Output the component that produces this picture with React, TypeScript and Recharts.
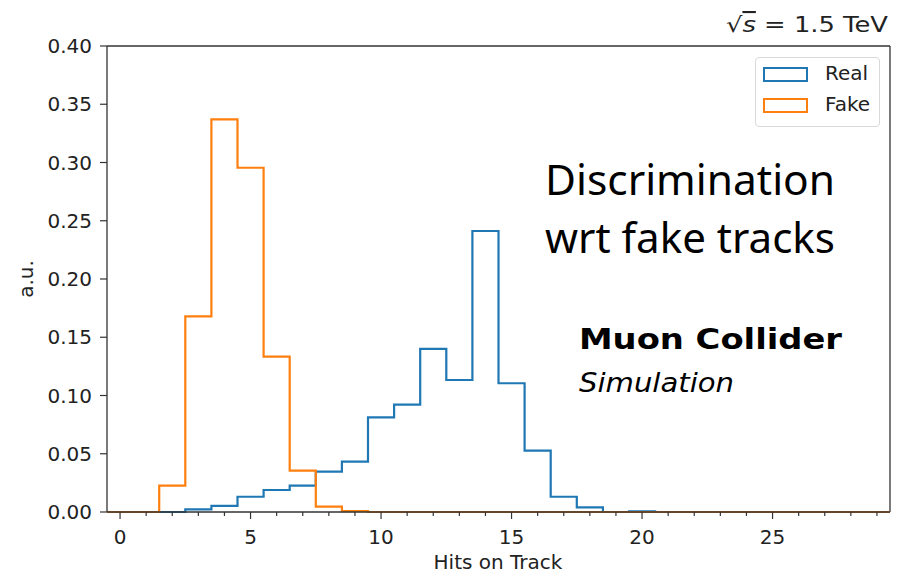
import React from 'react';
import { ComposedChart, Line, XAxis, YAxis, ReferenceLine, Legend } from 'recharts';

// Histogram bins (centres), values per bin
const HITS = [0, 1, 2, 3, 4, 5, 6, 7, 8, 9, 10, 11, 12, 13, 14, 15, 16, 17, 18, 19, 20, 21, 22, 23, 24, 25, 26, 27, 28, 29];
const REAL = [0, 0, 0, 0.0023, 0.0052, 0.0131, 0.0189, 0.0226, 0.0346, 0.0432, 0.0813, 0.0921, 0.14, 0.1133, 0.2412, 0.1105, 0.0526, 0.0131, 0.004, 0, 0.0005, 0, 0, 0, 0, 0, 0, 0, 0, 0];
const FAKE = [0, 0, 0.0226, 0.168, 0.337, 0.2955, 0.1333, 0.0355, 0.0046, 0.0008, 0, 0, 0, 0, 0, 0, 0, 0, 0, 0, 0, 0, 0, 0, 0, 0, 0, 0, 0, 0];
const BIN_WIDTH = 1;
const X_TICKS = HITS;
const Y_TICKS = [0, 0.05, 0.1, 0.15, 0.2, 0.25, 0.3, 0.35, 0.4];
const SERIES = [
  { key: 'real', name: 'Real', color: '#1f77b4' },
  { key: 'fake', name: 'Fake', color: '#ff7f0e' },
];

const stepData = HITS.map((h, i) => ({ x: h - BIN_WIDTH / 2, real: REAL[i], fake: FAKE[i] }));
stepData.push({
  x: HITS[HITS.length - 1] + BIN_WIDTH / 2,
  real: REAL[REAL.length - 1],
  fake: FAKE[FAKE.length - 1],
});

const FONT = 'DejaVu Sans';
const AXIS = '#333333';
const TEXT = '#222222';

const XTick = (props: any) => {
  const { x, y, payload } = props;
  const major = payload.value % 5 === 0;
  return (
    <g>
      <line x1={x} x2={x} y1={y} y2={y + (major ? 7 : 4)} stroke={AXIS} strokeWidth={1.2} />
      {major && (
        <text x={x} y={y + 32} textAnchor="middle" fontFamily={FONT} fontSize={20} fill={TEXT}>
          {payload.value}
        </text>
      )}
    </g>
  );
};

const LegendBox = () => (
  <div
    style={{
      position: 'relative',
      width: 125,
      height: 70,
      boxSizing: 'border-box',
      border: '1.5px solid #d9d9d9',
      borderRadius: 4,
      background: 'rgba(255,255,255,0.8)',
      fontFamily: FONT,
      fontSize: 20,
      color: TEXT,
    }}
  >
    {SERIES.map((s, i) => (
      <div key={s.key}>
        <div
          style={{
            position: 'absolute',
            left: 7,
            top: 9 + i * 31,
            width: 45,
            height: 15,
            boxSizing: 'border-box',
            border: `2px solid ${s.color}`,
          }}
        />
        <div style={{ position: 'absolute', left: 69, top: 3 + i * 31, lineHeight: '24px' }}>{s.name}</div>
      </div>
    ))}
  </div>
);

export default function App() {
  return (
    <div style={{ position: 'absolute', left: 0, top: 0, width: 902, height: 576, background: '#fff' }}>
      <ComposedChart width={902} height={576} data={stepData} margin={{ top: 46, right: 12, bottom: 0, left: 0 }}>
        <XAxis
          dataKey="x"
          type="number"
          domain={[-0.5, 29.5]}
          allowDataOverflow
          ticks={X_TICKS}
          interval={0}
          height={64}
          tickLine={false}
          tickSize={0}
          tickMargin={0}
          tick={<XTick />}
          axisLine={{ stroke: AXIS, strokeWidth: 1.3 }}
        />
        <YAxis
          type="number"
          domain={[0, 0.4]}
          ticks={Y_TICKS}
          interval={0}
          width={107}
          tickSize={7}
          tickMargin={8}
          tickFormatter={(v: number) => v.toFixed(2)}
          tick={{ fontFamily: FONT, fontSize: 20, fill: TEXT }}
          tickLine={{ stroke: AXIS, strokeWidth: 1.2 }}
          axisLine={{ stroke: AXIS, strokeWidth: 1.3 }}
        />
        <ReferenceLine y={0.4} stroke={AXIS} strokeWidth={1.3} />
        <ReferenceLine x={29.5} stroke={AXIS} strokeWidth={1.3} />
        {SERIES.map((s) => (
          <Line
            key={s.key}
            dataKey={s.key}
            name={s.name}
            type="stepAfter"
            stroke={s.color}
            strokeWidth={2.2}
            dot={false}
            activeDot={false}
            isAnimationActive={false}
          />
        ))}
        <Legend
          layout="vertical"
          align="center"
          verticalAlign="middle"
          wrapperStyle={{ left: 755, top: 57, width: 125, height: 70 }}
          content={() => <LegendBox />}
        />
      </ComposedChart>
      <svg width={902} height={576} style={{ position: 'absolute', left: 0, top: 0, pointerEvents: 'none' }}>
        <text x={888} y={32} textAnchor="end" fontFamily={FONT} fontSize={21} fill={TEXT} textLength={162} lengthAdjust="spacingAndGlyphs">
          <tspan>√</tspan>
          <tspan fontStyle="italic" textDecoration="overline">s</tspan>
          <tspan> = 1.5 TeV</tspan>
        </text>
        <text x={33} y={279} transform="rotate(-90, 33, 279)" textAnchor="middle" fontFamily={FONT} fontSize={20} fill={TEXT}>
          a.u.
        </text>
        <text x={498} y={569} textAnchor="middle" fontFamily={FONT} fontSize={20} fill={TEXT}>
          Hits on Track
        </text>
        <text x={545} y={195} fontFamily="Noto Sans" fontSize={42} fill="#000" textLength={290} lengthAdjust="spacingAndGlyphs">
          Discrimination
        </text>
        <text x={545} y={253} fontFamily="Noto Sans" fontSize={42} fill="#000" textLength={290} lengthAdjust="spacingAndGlyphs">
          wrt fake tracks
        </text>
        <text x={579} y={349} fontFamily={FONT} fontWeight="bold" fontSize={28} fill="#000" textLength={263} lengthAdjust="spacingAndGlyphs">
          Muon Collider
        </text>
        <text x={579} y={392} fontFamily={FONT} fontStyle="italic" fontSize={26} fill="#000" textLength={155} lengthAdjust="spacingAndGlyphs">
          Simulation
        </text>
      </svg>
    </div>
  );
}
